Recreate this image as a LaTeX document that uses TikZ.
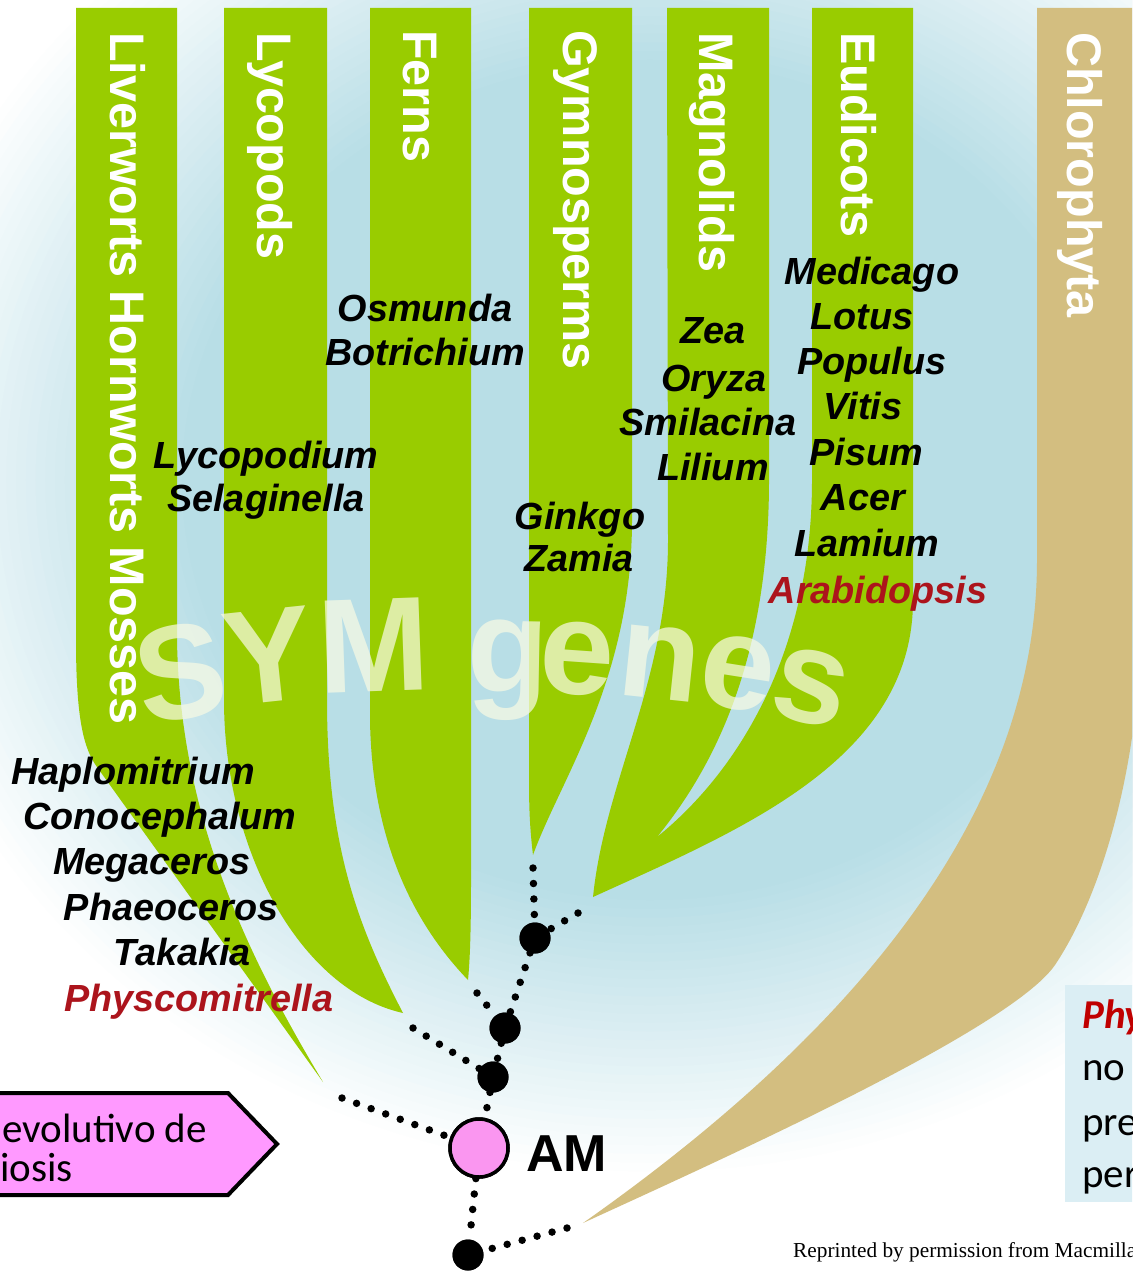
\documentclass[tikz,border=0pt]{standalone}
\usepackage{fontspec}
\setmainfont{Liberation Sans}
\newfontfamily\calib{Carlito}
\newfontfamily\tnr{Liberation Serif}
\definecolor{leaf}{RGB}{153,204,0}
\definecolor{tanc}{RGB}{211,190,128}
\definecolor{bgblue}{RGB}{184,222,230}
\definecolor{pinkc}{RGB}{255,153,255}
\definecolor{pinkam}{RGB}{250,150,240}
\definecolor{boxblue}{RGB}{219,238,244}
\definecolor{redc}{RGB}{172,20,28}
\definecolor{redb}{RGB}{192,0,0}
\definecolor{symc}{RGB}{248,250,228}
\tikzset{
  leafshape/.style={fill=leaf},
  chlshape/.style={fill=tanc},
  lab/.style={font=\fontsize{48.5}{50}\selectfont\bfseries, text=white, rotate=-90, anchor=base west, inner sep=0pt},
  sp/.style={font=\fontsize{37.8}{40}\selectfont\bfseries\itshape, text=black, anchor=base, inner sep=0pt},
  spred/.style={sp, text=redc},
  symlet/.style={font=\fontsize{134}{134}\selectfont\bfseries, text=symc, text opacity=0.72, anchor=base, inner sep=0pt},
  blob/.style={circle, fill=black, minimum size=31pt, inner sep=0pt},
  amc/.style={circle, fill=pinkam, draw=black, line width=3.5pt, minimum size=58pt, inner sep=0pt},
  dotline/.style={line width=7.5pt, dash pattern=on 0pt off 15.5pt, line cap=round, black},
  boxtxt/.style={font=\calib\fontsize{41}{50}\selectfont, anchor=base west, inner sep=0pt},
}
\begin{document}
\begin{tikzpicture}[x=1pt,y=-1pt]
\useasboundingbox (0,0) rectangle (1132,1273);
\clip (0,0) rectangle (1132,1273);
\fill[white] (0,0) rectangle (1132,1273);
% soft blue glow behind the tree
\foreach \i in {0,...,32}{
  \pgfmathsetmacro\sc{1-0.4*\i/32}
  \pgfmathsetmacro\pc{100*\i/32}
  \fill[bgblue!\pc!white] (650,480) ellipse [x radius={780*\sc}, y radius={700*\sc}];
}

% clades
\fill[leafshape] (76,8) -- (177,8) -- (177,640) .. controls (180,820) and (250,960) .. (323,1082)
   -- (97,767) .. controls (84,749) and (76,720) .. (76,640) -- cycle;
\fill[leafshape] (224,8) -- (327,8) -- (327,700) .. controls (327,850) and (360,930) .. (403,1013)
   .. controls (300,990) and (224,850) .. (224,700) -- cycle;
\fill[leafshape] (370,8) -- (471,8) -- (471,880) .. controls (471,930) and (470,960) .. (468,980)
   .. controls (420,930) and (372,850) .. (370,720) -- cycle;
\fill[leafshape] (529,8) -- (632,8) -- (632,520) .. controls (632,680) and (560,780) .. (533,855)
   .. controls (530,830) and (529,810) .. (529,780) -- cycle;
\fill[leafshape] (667,8) -- (769,8) -- (769,480) .. controls (769,650) and (720,760) .. (657,837)
   .. controls (740,770) and (812,650) .. (812,480) -- (812,8) -- (913,8) -- (913,600)
   .. controls (913,760) and (740,830) .. (593,897) .. controls (605,780) and (668,680) .. (668,540) -- cycle;
\fill[chlshape] (1037,8) -- (1160,8) -- (1160,560) -- (1140,640) .. controls (1138,760) and (1105,890) .. (1055,965)
   .. controls (1010,1030) and (720,1160) .. (583,1223) .. controls (900,1000) and (1037,780) .. (1037,560) -- cycle;

% SYM genes
\node[symlet, rotate=10] (s1) at (189,718) {S};
\node[symlet, rotate=6] (s2) at (273,702) {Y};
\node[symlet, rotate=2] (s3) at (375,692) {M};
\node[symlet, rotate=-1] (s4) at (507,692) {g};
\node[symlet, rotate=-4] (s5) at (575,694) {e};
\node[symlet, rotate=-6] (s6) at (656,699) {n};
\node[symlet, rotate=-9] (s7) at (732,708) {e};
\node[symlet, rotate=-13] (s8) at (803,722) {s};

% clade labels
\node[lab] (l1) at (110,32) {Liverworts Hornworts Mosses};
\node[lab] (l2) at (257,32) {Lycopods};
\node[lab] (l3) at (403,30) {Ferns};
\node[lab] (l4) at (563,30) {Gymnosperms};
\node[lab] (l5) at (699,32) {Magnolids};
\node[lab] (l6) at (841,32) {Eudicots};
\node[lab] (l7) at (1067,32) {Chlorophyta};

% species
\node[sp] (g1) at (425,321) {Osmunda};
\node[sp] (g2) at (425,365) {Botrichium};
\node[sp] (g3) at (266,468) {Lycopodium};
\node[sp] (g4) at (266,511) {Selaginella};
\node[sp] (g5) at (580,529) {Ginkgo};
\node[sp] (g6) at (579,571) {Zamia};
\node[sp] (g7) at (713,343) {Zea};
\node[sp] (g8) at (714,391) {Oryza};
\node[sp] (g9) at (708,435) {Smilacina};
\node[sp] (g10) at (713,480) {Lilium};
\node[sp] (g11) at (872,284) {Medicago};
\node[sp] (g12) at (862,329) {Lotus};
\node[sp] (g13) at (872,374) {Populus};
\node[sp] (g14) at (863,419) {Vitis};
\node[sp] (g15) at (866,465) {Pisum};
\node[sp] (g16) at (863,510) {Acer};
\node[sp] (g17) at (867,556) {Lamium};
\node[spred] (g18) at (878,603) {Arabidopsis};
\node[sp] (g19) at (133,784) {Haplomitrium};
\node[sp] (g20) at (160,829) {Conocephalum};
\node[sp] (g21) at (152,874) {Megaceros};
\node[sp] (g22) at (171,920) {Phaeoceros};
\node[sp] (g23) at (182,965) {Takakia};
\node[spred] (g24) at (199,1011) {Physcomitrella};

% tree nodes
\node[blob] (n1) at (535,938) {};
\node[blob] (n2) at (505,1028) {};
\node[blob] (n3) at (493,1077) {};
\node[amc] (am) at (479,1148) {};
\node[blob] (n0) at (468,1255) {};
\node[font=\fontsize{52}{52}\selectfont\bfseries, anchor=base west, inner sep=0pt] (amlab) at (526,1171) {AM};
\coordinate (tgym) at (533,868);
\coordinate (tang) at (578,913);
\coordinate (tfern) at (477,993);
\coordinate (tlyc) at (413,1028);
\coordinate (tliv) at (342,1098);
\coordinate (tchl) at (567,1228);
\draw[dotline] (tgym) -- (n1);
\draw[dotline] (tang) -- (n1);
\draw[dotline] (n1) -- (n2);
\draw[dotline] (tfern) -- (n2);
\draw[dotline] (n2) -- (n3);
\draw[dotline] (tlyc) -- (n3);
\draw[dotline] (n3) -- (am);
\draw[dotline] (tliv) -- (am);
\draw[dotline] (am) -- (n0);
\draw[dotline] (tchl) -- (n0);
\node[blob] at (n1) {};
\node[blob] at (n2) {};
\node[blob] at (n3) {};
\node[blob] at (n0) {};
\node[amc] at (am) {};

% left box
\draw[fill=pinkc, line width=4pt, line join=miter] (-10,1093) -- (228,1093) -- (277,1144) -- (228,1195) -- (-10,1195) -- cycle;
\node[boxtxt] (bt1) at (2,1142) {evolutivo de};
\node[boxtxt] (bt2) at (0,1181) {iosis};

% right box
\fill[boxblue] (1065,985) rectangle (1140,1202);
\node[boxtxt, font=\calib\fontsize{41}{50}\selectfont\bfseries\itshape, text=redb] (rt1) at (1082,1028) {Phy};
\node[boxtxt] (rt2) at (1082,1080) {no};
\node[boxtxt] (rt3) at (1082,1135) {pre};
\node[boxtxt] (rt4) at (1082,1187) {per};

% credit
\node[font=\tnr\fontsize{21.3}{24}\selectfont, anchor=base west, inner sep=0pt] (cred) at (793,1257) {Reprinted by permission from Macmilla};
\end{tikzpicture}
\end{document}
